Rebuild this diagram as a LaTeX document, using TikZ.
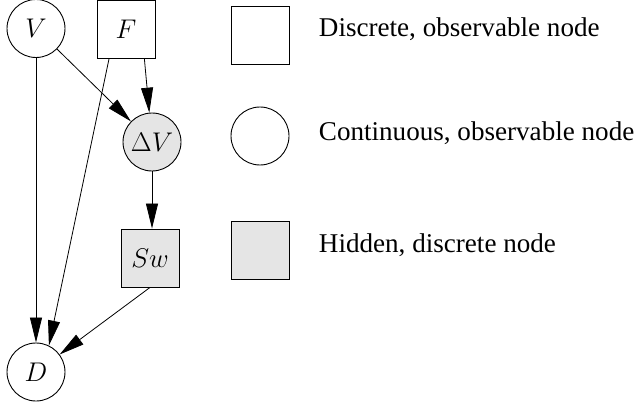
\documentclass[tikz,border=0pt]{standalone}
\usepackage{fix-cm}
\usepackage{fontspec}
\setmainfont{Liberation Serif}
\usetikzlibrary{arrows.meta,calc}

\definecolor{hiddenfill}{HTML}{E5E5E5}

\tikzset{
  every node/.style={line width=0.9pt},
  contnode/.style={draw, circle, minimum size=58pt, inner sep=0pt,
    font=\fontsize{27}{30}\selectfont},
  discnode/.style={draw, rectangle, minimum width=58pt, minimum height=58pt,
    inner sep=0pt, font=\fontsize{27}{30}\selectfont},
  hidden/.style={fill=hiddenfill},
  edge/.style={line width=0.8pt, -{Triangle[length=25pt,width=12pt]}},
  legendtext/.style={anchor=base west, inner sep=0pt, font=\fontsize{27.1}{30}\selectfont},
}

\begin{document}
\begin{tikzpicture}[x=1pt, y=-1pt]
  \useasboundingbox (0,0) rectangle (638,404);

  % network
  \node[contnode] (V) at (36,28.5) {$V$};
  \node[discnode] (F) at (126,29.5) {$F$};
  \node[contnode, hidden] (dV) at (152,142) {$\Delta V$};
  \node[discnode, hidden] (Sw) at (150,258) {$Sw$};
  \node[contnode] (D) at (36,372) {$D$};

  \draw[edge] (V) -- (dV);
  \draw[edge] (F.-58) -- (dV);
  \draw[edge] (V) -- (D);
  \draw[edge] (F.-120) -- (D.64);
  \draw[edge] (dV.south) -- (dV.south |- Sw.north);
  \draw[edge] (Sw.south) -- (D);

  % legend
  \node[discnode] (lsq) at (260,35) {};
  \node[contnode] (lci) at (260,136) {};
  \node[discnode, hidden] (lhid) at (260,250) {};
  \node[legendtext] (tsq) at (318.5,37) {Discrete, observable node};
  \node[legendtext] (tci) at (318.5,140) {Continuous, observable node};
  \node[legendtext] (thid) at (318.5,252) {Hidden, discrete node};
\end{tikzpicture}
\end{document}
